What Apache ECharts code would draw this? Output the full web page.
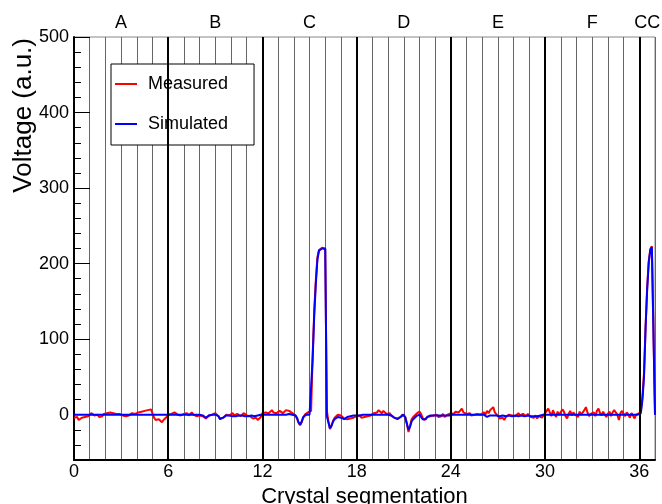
<!DOCTYPE html>
<html>
<head>
<meta charset="utf-8">
<script src="https://cdn.jsdelivr.net/npm/echarts@6/dist/echarts.min.js"></script>
<style>html,body{margin:0;padding:0;background:#fff;}#chart{width:662px;height:504px;}</style>
</head>
<body>
<div id="chart"></div>
<script>
// ---- data (sampled every 0.1 crystal units) ----
const sampleStep = 0.1;
const measuredA = [
  -4, -6, -3, -7, -5, -4, -6, -3, -5, -2,
  0, 2, 1, -1, 1, 0, -3, -5, -2, 1,
  1, 2, 0, 3, 1, 2, 0, 1, 2, 1,
  0, -1, 1, -2, 0, -1, 1, 2, 0, 1,
  2, 3, 1, 4, 3, 5, 4, 6, 5, 7,
  8, -4, -7, -9, -6, -8, -10, -7, -5, -3
];
const measuredB = [
  0, 2, 1, -1, 3, 1, 0, 2, -1, 1,
  1, 0, 2, -1, 1, 3, 0, 1, -2, 0,
  -1, -1, -2, -4, -5, -3, -1, 1, 0, 2,
  2, 1, -2, -5, -7, -4, -2, 0, 1, -1,
  0, 2, -1, -3, 1, 0, -2, -1, 2, 0,
  -1, -3, -2, -4, -5, -6, -4, -7, -5, -3
];
const measuredC = [
  2, 4, 3, 5, 2, 4, 6, 3, 4, 2,
  3, 5, 4, 2, 3, 6, 4, 5, 3, 2,
  1, -1, -5, -11, -14, -10, -4, 0, 2, 3,
  4, 5, 80, 138, 178, 208, 218, 219, 221, 220,
  219, 6, -9, -19, -14, -8, -4, -2, 0, -2,
  -1, -3, -5, -7, -6, -8, -5, -7, -4, -3
];
const measuredD = [
  -2, -3, -1, -4, -2, -3, -1, -2, 0, -1,
  1, 2, 0, 3, 6, 4, 2, 5, 3, 1,
  0, 2, -1, -2, -4, -6, -5, -6, -3, 0,
  1, -3, -12, -23, -15, -6, -3, -1, 1, 2,
  4, 1, -4, -7, -6, -3, -1, -2, 0, -1,
  -2, 0, -3, -1, -2, 1, -3, -1, 0, -2
];
const measuredE = [
  2, 3, 1, 4, 2, 3, 5, 8, 3, 2,
  1, 0, 2, -1, 1, 0, 2, 1, -1, 0,
  1, 3, 0, 5, 2, 6, 4, 10, 3, 1,
  -2, -5, -6, -4, -7, -3, -1, 0, 2, -1,
  1, -2, 0, 2, -1, -3, 1, 0, -2, 1,
  -1, -3, -2, -4, -1, -5, -2, -3, -4, -2
];
const measuredF = [
  2, 5, 8, 3, -2, 6, 1, -3, 4, 0,
  2, 7, 4, -2, -5, 1, 5, -1, 3, 0,
  1, -3, 4, 0, 2, 6, 10, 3, -2, 1,
  0, 3, -2, 5, 8, 2, -1, 4, 0, -3,
  1, 4, -2, 3, 6, 8, 0, -7, 2, 5,
  1, -2, 3, 0, -4, 2, -1, -5, 0, 1
];
const measuredCC = [2, 6, 24, 55, 116, 168, 203, 219, 223, 225, 0];

const simulatedA = [
  0, 0, 0, 0, 0, 0, 0, 0, 0, 0,
  0, 0, 0, 0, 0, 0, 0, 0, 0, 0,
  0, 0, 0, 0, 0, 0, 0, 0, 0, 0,
  0, 0, 0, 0, 0, 0, 0, 0, 0, 0,
  0, 0, 0, 0, 0, 0, 0, 0, 0, 0,
  0, 0, 0, 0, 0, 0, 0, 0, 0, 0
];
const simulatedB = [
  0, 0, 0, 0, 0, 0, 0, 0, 0, 0,
  0, 0, 0, 0, 0, 0, 0, 0, 0, 0,
  0, 0, -1, -3, -4, -2, -1, 0, 0, 0,
  0, 0, -2, -6, -7, -4, -2, -1, -1, -1,
  -1, -2, -3, -2, -1, -1, -1, -1, -2, -2,
  -2, -2, -2, -1, -2, -2, -1, -1, -1, 0
];
const simulatedC = [
  0, 0, 0, 0, 0, 0, 0, 0, 0, 0,
  0, 0, 0, 0, 0, 0, 0, 1, 1, 0,
  0, -1, -4, -10, -13, -9, -3, -1, 0, 0,
  0, 2, 75, 132, 173, 205, 217, 219, 220, 220,
  220, -2, -10, -18, -15, -9, -6, -4, -3, -4,
  -4, -5, -6, -4, -3, -3, -2, -2, -1, -1
];
const simulatedD = [
  -1, -1, -1, -1, 0, 0, 0, 0, 0, 0,
  0, 0, 0, 0, 0, 0, 0, 0, 0, 0,
  0, 0, -1, -2, -4, -5, -6, -5, -3, -1,
  0, -4, -12, -20, -16, -9, -6, -4, -2, -1,
  0, -2, -6, -8, -6, -3, -1, -1, -1, -1,
  -1, -1, -1, -1, -1, -1, -1, -1, -1, -1
];
const simulatedE = [
  0, 0, 0, 0, 0, 0, 0, 0, 0, 0,
  0, 0, 0, 0, 0, 0, 0, 0, 0, 0,
  0, 0, -2, -3, -2, -1, -1, -1, -1, -1,
  -1, -2, -2, -1, -1, -2, -2, -1, -1, -2,
  -2, -1, -1, -2, -2, -1, -1, -2, -2, -1,
  -2, -2, -3, -2, -2, -2, -1, -1, -1, 0
];
const simulatedF = [
  0, 0, 0, 0, 0, 0, 0, 0, 0, 0,
  0, 0, 0, 0, 0, 0, 0, 0, 0, 0,
  0, 0, 0, 0, 0, 0, 0, 0, 0, 0,
  0, 0, 0, 0, 0, 0, 0, 0, 0, 0,
  0, 0, 0, 0, 0, 0, 0, 0, 0, 0,
  0, 0, 0, 0, 0, 0, 0, 0, 0, 0
];
const simulatedCC = [0, 2, 20, 50, 115, 165, 201, 218, 222, 224, 0];

const crystalBoundaries = [6, 12, 18, 24, 30, 36];
const topLabelPositions = [3, 9, 15, 21, 27, 33, 36.5];
const topLabels = ['A', 'B', 'C', 'D', 'E', 'F', 'CC'];
const yMajorTicks = [0, 100, 200, 300, 400, 500];

// ---- build ----
const measured = [].concat(measuredA, measuredB, measuredC, measuredD, measuredE, measuredF, measuredCC);
const simulated = [].concat(simulatedA, simulatedB, simulatedC, simulatedD, simulatedE, simulatedF, simulatedCC);
const toPairs = arr => arr.map((v, i) => [Math.round(i * sampleStep * 10) / 10, v]);
const topMap = {};
topLabelPositions.forEach((p, i) => { topMap[String(p)] = topLabels[i]; });

const FONT = '"Liberation Sans", Arial, Helvetica, sans-serif';
const chart = echarts.init(document.getElementById('chart'), null, { renderer: 'canvas' });
chart.setOption({
  animation: false,
  backgroundColor: '#fff',
  textStyle: { fontFamily: FONT },
  grid: { left: 74, right: 7, top: 37, bottom: 44, show: true, borderColor: '#888', borderWidth: 1,
          containLabel: false, outerBoundsMode: 'none' },
  legend: {
    data: ['Measured', 'Simulated'],
    orient: 'vertical', left: 111, top: 64,
    backgroundColor: '#fff', borderColor: '#000', borderWidth: 1, borderRadius: 0,
    padding: [11, 26, 12, 4], itemGap: 22,
    itemWidth: 22, itemHeight: 2, icon: 'rect',
    textStyle: { fontSize: 18, color: '#000', fontFamily: FONT, padding: [0, 0, 0, 6] }
  },
  graphic: [{
    type: 'text', x: 24, y: 38, rotation: Math.PI / 2,
    style: { text: 'Voltage (a.u.)', fontSize: 26, fontFamily: FONT, fill: '#000', align: 'right', verticalAlign: 'middle' }
  }],
  xAxis: [{
    type: 'value', min: 0, max: 37, interval: 1, position: 'bottom',
    name: 'Crystal segmentation', nameLocation: 'middle', nameGap: 24,
    nameTextStyle: { fontSize: 22, color: '#000', fontFamily: FONT },
    axisLine: { show: true, onZero: false, lineStyle: { color: '#000', width: 2 } },
    axisTick: { show: false },
    axisLabel: { fontSize: 18, color: '#000', margin: 3, formatter: v => (v % 6 === 0 ? String(v) : '') },
    splitLine: { show: true, lineStyle: { color: '#666', width: 1 } }
  }, {
    type: 'value', min: 0, max: 37, interval: 0.5, position: 'top',
    axisLine: { show: false }, axisTick: { show: false }, splitLine: { show: false },
    axisLabel: { fontSize: 18, color: '#000', margin: 5, formatter: v => topMap[String(v)] || '' }
  }],
  yAxis: [{
    type: 'value', min: -60, max: 500, interval: 20,
    axisLine: { show: true, onZero: false, lineStyle: { color: '#000', width: 2 } },
    axisTick: { show: true, inside: true, length: 7, lineStyle: { color: '#000', width: 1 } },
    axisLabel: { fontSize: 18, color: '#000', margin: 5, formatter: v => (v % 100 === 0 ? String(v) : '') },
    splitLine: { show: false }
  }, {
    type: 'value', min: -60, max: 500, interval: 20, position: 'left',
    axisLine: { show: false },
    axisTick: { show: true, inside: true, length: 16, customValues: yMajorTicks, lineStyle: { color: '#000', width: 1 } },
    axisLabel: { show: false },
    splitLine: { show: false }
  }],
  series: [{
    name: 'Measured', type: 'line', data: toPairs(measured), xAxisIndex: 0, yAxisIndex: 0,
    showSymbol: false, symbol: 'none', color: '#ff0000',
    lineStyle: { color: '#ff0000', width: 2 }, z: 3
  }, {
    name: 'Simulated', type: 'line', data: toPairs(simulated), xAxisIndex: 0, yAxisIndex: 0,
    showSymbol: false, symbol: 'none', color: '#0000ff',
    lineStyle: { color: '#0000ff', width: 2 }, z: 4
  }, {
    name: 'boundaries', type: 'line', data: [], xAxisIndex: 0, yAxisIndex: 0, z: 5,
    markLine: {
      silent: true, symbol: ['none', 'none'], label: { show: false },
      lineStyle: { color: '#000', width: 2, type: 'solid' },
      data: crystalBoundaries.map(v => ({ xAxis: v }))
    }
  }]
});
</script>
</body>
</html>
